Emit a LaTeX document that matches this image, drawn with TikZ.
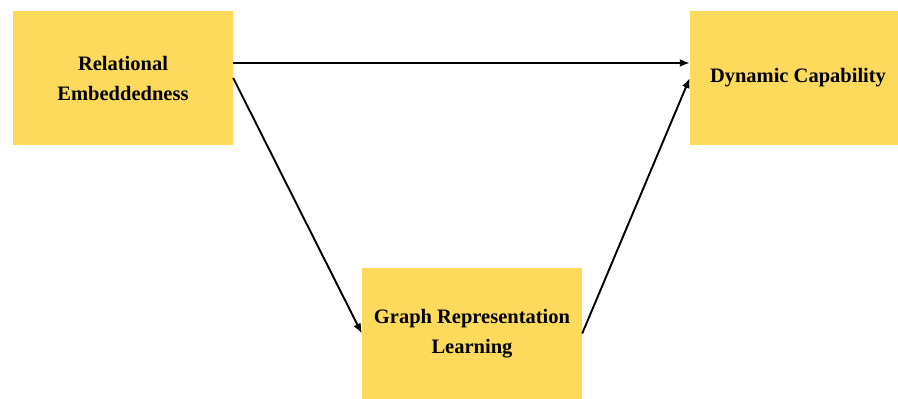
\documentclass[tikz,border=0pt]{standalone}
\usepackage{fontspec}
\setmainfont{Liberation Serif}
\usepackage{tikz}
\usetikzlibrary{arrows.meta,positioning}
\definecolor{boxyellow}{RGB}{253,218,91}

\begin{document}
\begin{tikzpicture}[x=1pt,y=-1pt,
  font=\fontsize{20.5}{30}\selectfont\bfseries,
  b/.style={fill=boxyellow,draw=none,minimum width=220pt,minimum height=134pt,align=center,inner sep=2pt},
  link/.style={-{Latex[length=10pt,width=8pt]},line width=1.9pt}]
\useasboundingbox (0,0) rectangle (898,399);
% ---- three constructs ----
\node[b] (re)  at (123,78)  {Relational\\Embeddedness};
\node[b,minimum width=208pt] (dc) at (794,78) {\hspace{8pt}Dynamic Capability};
\node[b,minimum height=131pt] (grl) at (472,333.5) {Graph Representation\\Learning};
% ---- paths ----
\draw[link] ([yshift=15pt]re.east) -- ([yshift=15pt]dc.west);
\draw[link] (re.east) -- (grl.west);
\draw[link] (grl.east) -- (dc.west);
\end{tikzpicture}
\end{document}
